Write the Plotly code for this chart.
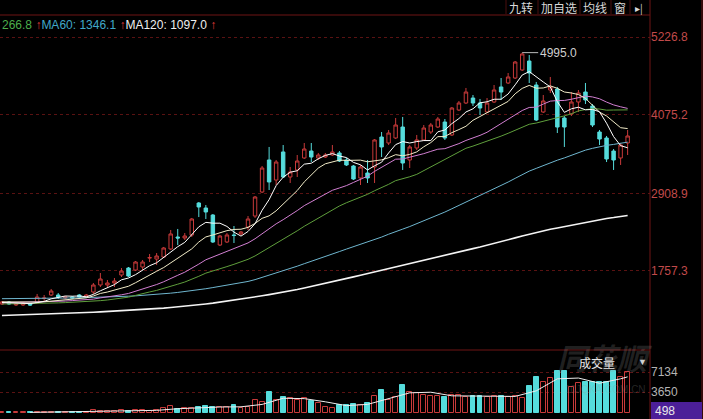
import plotly.graph_objects as go

# ---------------- data ----------------
open_ = [1267,1297,1253,1253,1267,1282,1349,1401,1401,1356, 1371,1401,1371,1445,1549,1549,1579,1697,1801,1771,
         1816,1949,1934,1964,2083,2261,2246,2291,2765,2691, 2587,2142,2187,2291,2306,2409,2572,2928,3403,3106,
         3522,3151,3255,3433,3536,3433,3447,3477,3507,3403, 3314,3136,3210,3299,3744,3655,3729,3892,3403,3581,
         3700,3818,3892,3966,3774,4144,4248,4322,4248,4115, 4263,4486,4545,4619,4738,4871,4515,4115,4441,4456,
         4026,4085,4263,4411,4204,3818,3729,3536,3433,3655]
high = [1312,1312,1282,1297,1282,1416,1401,1490,1430,1386, 1386,1416,1416,1579,1727,1623,1653,1801,1816,1905,
        1920,2009,2023,2113,2365,2380,2320,2543,2780,2735, 2602,2291,2320,2424,2350,2572,2869,3314,3596,3403,
        3625,3299,3477,3655,3655,3507,3507,3625,3536,3433, 3329,3329,3403,3714,3818,3848,4026,4041,3625,3774,
        3922,3952,4041,4011,4189,4278,4471,4367,4308,4322, 4515,4619,4693,4871,4995,4960,4560,4367,4634,4486,
        4055,4411,4441,4545,4233,3848,3759,3566,3655,3848]
low = [1253,1253,1238,1238,1238,1267,1312,1386,1341,1341, 1341,1356,1356,1416,1519,1505,1519,1668,1668,1756,
       1771,1890,1845,1949,2068,2142,2216,2261,2557,2528, 2172,2127,2172,2172,2291,2365,2543,2913,2958,3032,
       3136,3062,3151,3418,3373,3403,3433,3462,3373,3314, 3106,3032,3062,3062,3447,3625,3714,3255,3284,3551,
       3685,3789,3877,3700,3759,4130,4233,4204,4070,4100, 4248,4293,4530,4604,4724,4545,3981,4100,4397,3803,
       3596,4055,4115,4233,3892,3625,3373,3255,3329,3477]
close = [1297,1267,1267,1282,1253,1371,1356,1460,1371,1371, 1356,1371,1401,1549,1638,1579,1608,1756,1682,1890,
         1890,1955,1979,2098,2306,2246,2276,2528,2706,2632, 2187,2276,2291,2283,2335,2528,2854,3284,3077,3373,
         3151,3225,3388,3566,3447,3477,3477,3522,3388,3329, 3121,3299,3136,3700,3596,3803,3922,3358,3596,3700,
         3877,3922,4011,3729,4174,4248,4411,4248,4174,4248, 4441,4411,4634,4856,4975,4693,3996,4278,4486,3892,
         3892,4263,4397,4293,3922,3714,3418,3403,3625,3759]

ma5 = [1290,1285,1280,1278,1273,1288,1306,1344,1362,1386, 1383,1386,1374,1410,1463,1508,1555,1626,1653,1703,
       1765,1835,1879,1962,2046,2117,2181,2291,2412,2478, 2466,2466,2418,2334,2274,2343,2458,2657,2816,3023,
       3148,3222,3243,3341,3355,3421,3471,3498,3462,3439, 3367,3332,3255,3317,3370,3507,3631,3676,3655,3676,
       3691,3691,3821,3848,3943,4017,4115,4162,4251,4266, 4304,4304,4382,4518,4663,4714,4631,4560,4486,4269,
       4109,4162,4186,4147,4153,4118,3949,3750,3616,3584]
ma10 = [1300,1298,1296,1295,1293,1296,1300,1308,1316,1330, 1335,1346,1359,1386,1424,1445,1470,1500,1531,1583,
        1636,1695,1753,1808,1874,1941,2008,2085,2187,2262, 2291,2323,2355,2373,2376,2404,2462,2538,2575,2649,
        2745,2840,2950,3078,3189,3284,3347,3370,3401,3397, 3394,3401,3376,3390,3405,3437,3482,3465,3486,3523,
        3599,3661,3749,3751,3809,3854,3903,3992,4049,4104, 4161,4210,4272,4385,4465,4509,4468,4471,4502,4466,
        4411,4397,4373,4317,4211,4113,4056,3968,3882,3869]
ma20 = [1285,1287,1288,1290,1292,1295,1298,1302,1306,1311, 1318,1322,1328,1340,1358,1370,1385,1404,1424,1457,
        1486,1521,1556,1597,1649,1693,1739,1793,1859,1923, 1964,2009,2054,2091,2125,2173,2235,2312,2381,2456,
        2518,2582,2653,2726,2783,2844,2905,2954,2988,3023, 3070,3121,3163,3234,3297,3361,3415,3418,3444,3460,
        3497,3531,3563,3571,3607,3646,3693,3729,3768,3814, 3880,3936,4011,4068,4137,4182,4186,4232,4276,4285,
        4286,4304,4323,4351,4338,4311,4262,4220,4192,4168]
ma30 = [1267,1268,1269,1270,1272,1274,1277,1280,1284,1288, 1292,1297,1302,1309,1317,1327,1338,1352,1369,1395,
        1424,1446,1469,1496,1530,1561,1593,1631,1678,1725, 1754,1788,1822,1856,1891,1930,1980,2041,2098,2165,
        2224,2286,2353,2420,2480,2543,2606,2664,2721,2769, 2810,2855,2894,2947,2990,3042,3097,3124,3154,3190,
        3246,3301,3358,3406,3468,3525,3577,3609,3645,3675, 3718,3757,3799,3842,3893,3933,3951,3976,4012,4031,
        4057,4089,4131,4151,4162,4159,4142,4144,4144,4146]
ma60 = [1346,1346,1347,1347,1348,1349,1350,1352,1353,1355, 1357,1359,1361,1364,1367,1370,1374,1378,1383,1388,
        1394,1401,1409,1418,1428,1439,1451,1464,1478,1494, 1511,1528,1546,1563,1582,1602,1629,1661,1691,1727,
        1758,1792,1828,1865,1899,1935,1972,2008,2045,2082, 2117,2151,2182,2222,2260,2302,2345,2378,2416,2458,
        2500,2545,2590,2631,2680,2728,2779,2825,2872,2920, 2971,3022,3076,3131,3187,3238,3279,3320,3367,3400,
        3434,3472,3513,3549,3576,3601,3620,3634,3649,3668]
ma120 = [1097,1100,1103,1106,1109,1112,1116,1119,1123,1126, 1130,1135,1140,1145,1150,1155,1161,1167,1173,1179,
         1185,1192,1199,1206,1215,1224,1234,1245,1256,1268, 1280,1294,1309,1324,1340,1356,1372,1389,1406,1423,
         1440,1461,1483,1505,1527,1550,1573,1597,1621,1645, 1670,1695,1720,1745,1770,1796,1822,1848,1874,1899,
         1923,1946,1969,1989,2014,2039,2065,2089,2113,2138, 2164,2191,2219,2248,2277,2304,2327,2349,2375,2394,
         2414,2437,2461,2484,2502,2520,2536,2549,2564,2581]

volume = [120,100,90,110,100,200,150,250,180,150, 130,160,200,520,350,400,350,520,350,520,
          520,400,520,870,1220,700,870,870,1045,1220, 1045,1045,1045,1390,870,1045,2260,1910,3650,2260,
          2780,2610,2260,2610,2090,1740,1045,870,1390,1390, 1570,1390,1740,2960,4000,2260,2780,4870,3650,3480,
          3130,2960,2960,2780,3130,3130,2780,2960,2960,2780, 2960,2960,2780,2960,2610,4700,6260,5400,6090,7310,
          7310,4520,5220,5400,5400,5400,5400,7310,6260,7130]
vol_ma_idx = [4,7,10,13,16,19,22,25,28,31,34,37,40,43,46,49,52,55,58,61,64,67,70,73,76,79,82,85,88,89]
vol_ma = [104,162,172,232,364,428,462,742,941,1045,1079,1495,2572,2504,1949,1287,1496,2470,3512,3618,
          2992,2956,2888,2888,3862,5952,6090,5188,5954,6300]

price_ticks = [1757.3, 2908.9, 4075.2, 5226.8]
vol_ticks = [3650, 7134]
vol_last_label = 498
legend_vals = {"MA30": "266.8", "MA60": "1346.1", "MA120": "1097.0"}
buttons = ["九转", "加自选", "均线", "窗", "▸|"]

# ---------------- styling / layout ----------------
W, H = 703, 419
UP = "#c83a3a"
DOWN = "#55dcdc"
GRID = "#5a1212"
FONT = "Liberation Sans, Arial, sans-serif"
CJK = "Noto Sans CJK SC, sans-serif"

def px(x):
    return x / W

def py(y):
    return 1 - y / H

idx = list(range(len(close)))

fig = go.Figure()

fig.add_trace(go.Candlestick(
    x=idx, open=open_, high=high, low=low, close=close,
    increasing=dict(line=dict(color=UP, width=1), fillcolor="#000000"),
    decreasing=dict(line=dict(color=DOWN, width=1), fillcolor=DOWN),
    whiskerwidth=0, hoverinfo="skip", showlegend=False,
    xaxis="x", yaxis="y"))

ma_styles = [
    (ma120, "#f4f4f4", 1.6),
    (ma60, "#6fb6cf", 1.0),
    (ma30, "#5f9f3c", 1.0),
    (ma20, "#d27fd2", 1.0),
    (ma10, "#f2ecc8", 1.0),
    (ma5, "#ffffff", 1.0),
]
for vals, col, w in ma_styles:
    fig.add_trace(go.Scatter(x=list(range(len(vals))), y=vals, mode="lines",
                             line=dict(color=col, width=w), hoverinfo="skip",
                             showlegend=False, xaxis="x", yaxis="y"))

vol_up = [c >= o for o, c in zip(open_, close)]
fig.add_trace(go.Bar(
    x=idx, y=volume, width=0.7,
    marker=dict(color=["rgba(0,0,0,0)" if u else DOWN for u in vol_up],
                line=dict(color=[UP if u else DOWN for u in vol_up], width=1)),
    hoverinfo="skip", showlegend=False, xaxis="x2", yaxis="y2"))
fig.add_trace(go.Scatter(x=vol_ma_idx, y=vol_ma, mode="lines",
                         line=dict(color="#eeeeee", width=1), hoverinfo="skip",
                         showlegend=False, xaxis="x2", yaxis="y2"))

xr = [-0.28, 92.18]
main_top, main_bot = 15, 350
p_at = lambda y: 5775.7 - 14.83 * y
v_at = lambda y: (413 - y) * 174.2

fig.update_layout(
    width=W, height=H, margin=dict(l=0, r=0, t=0, b=0),
    paper_bgcolor="#000000", plot_bgcolor="#000000",
    font=dict(family=FONT, size=12, color="#c8c8c8"),
    bargap=0,
    xaxis=dict(domain=[0, px(650)], range=xr, showgrid=False, zeroline=False,
               showticklabels=False, showline=False, rangeslider=dict(visible=False),
               fixedrange=True),
    yaxis=dict(domain=[py(main_bot), py(main_top)], range=[p_at(main_bot), p_at(main_top)],
               side="right", tickvals=price_ticks, ticktext=[f"{v:.1f}" for v in price_ticks],
               tickfont=dict(color="#c24a4a", size=12, family=FONT),
               showgrid=True, gridcolor=GRID, griddash="dot", gridwidth=1,
               zeroline=False, showline=False, ticks=""),
    xaxis2=dict(domain=[0, px(650)], range=xr, anchor="y2", showgrid=False, zeroline=False,
                showticklabels=False, showline=False, fixedrange=True),
    yaxis2=dict(domain=[0, py(main_bot)], range=[v_at(419), v_at(main_bot)], anchor="x2",
                side="right", tickvals=vol_ticks, ticktext=[str(v) for v in vol_ticks],
                tickfont=dict(color="#b4b4b4", size=12, family=FONT),
                showgrid=True, gridcolor=GRID, griddash="dot", gridwidth=1,
                zeroline=False, showline=False, ticks=""),
)

shapes = []
line_col = "#6e1414"
shapes.append(dict(type="line", xref="paper", yref="paper", x0=0, x1=px(650), y0=py(15), y1=py(15),
                   line=dict(color=line_col, width=1)))
shapes.append(dict(type="line", xref="paper", yref="paper", x0=0, x1=px(650), y0=py(350), y1=py(350),
                   line=dict(color=line_col, width=1)))
shapes.append(dict(type="line", xref="paper", yref="paper", x0=px(650), x1=px(650), y0=0, y1=1,
                   line=dict(color=line_col, width=1)))
shapes.append(dict(type="line", xref="paper", yref="paper", x0=px(702), x1=px(702), y0=0, y1=1,
                   line=dict(color=line_col, width=1)))
for sx in [506, 538, 580, 611, 630]:
    shapes.append(dict(type="line", xref="paper", yref="paper", x0=px(sx), x1=px(sx), y0=py(0), y1=py(14),
                       line=dict(color="#4a0e0e", width=1)))
shapes.append(dict(type="rect", xref="paper", yref="paper", x0=px(651), x1=px(702), y0=py(419), y1=py(402),
                   fillcolor="#4c1f98", line=dict(width=0)))
fig.update_layout(shapes=shapes)

ann = []
arrow = '<span style="color:#e03a3a"><b>↑</b></span>'
legend_html = (f'<span style="color:#4cae4c">{legend_vals["MA30"]} </span>{arrow}'
               f'<span style="color:#40a8c8">MA60: {legend_vals["MA60"]} </span>{arrow}'
               f'<span style="color:#efefef">MA120: {legend_vals["MA120"]} </span>{arrow}')
ann.append(dict(text=legend_html, xref="paper", yref="paper", x=px(0), y=py(25),
                xanchor="left", yanchor="middle", showarrow=False,
                font=dict(size=12, family=FONT)))
btn_x = [521, 559, 595, 620, 639]
btn_size = [12, 12, 12, 12, 10]
for t, bx, bs in zip(buttons, btn_x, btn_size):
    ann.append(dict(text=t, xref="paper", yref="paper", x=px(bx), y=py(7.5),
                    xanchor="center", yanchor="middle", showarrow=False,
                    font=dict(size=bs, family=CJK, color="#d8d8d8")))
imax = max(range(len(high)), key=lambda i: high[i])
ann.append(dict(text=f"{high[imax]:.1f}", x=imax, y=high[imax], xref="x", yref="y",
                showarrow=True, arrowhead=0, arrowwidth=1, arrowcolor="#bbbbbb",
                ax=16, ay=0, axref="pixel", ayref="pixel", xanchor="left", yanchor="middle",
                font=dict(size=12, family=FONT, color="#cfcfcf")))
ann.append(dict(text="<i><b>同花顺</b></i>", xref="paper", yref="paper", x=px(605), y=py(357),
                xanchor="center", yanchor="middle", showarrow=False,
                font=dict(size=30, family=CJK, color="rgba(150,150,150,0.22)")))
ann.append(dict(text="10JQKA.COM.CN", xref="paper", yref="paper", x=px(605), y=py(389),
                xanchor="center", yanchor="middle", showarrow=False,
                font=dict(size=10, family=FONT, color="rgba(150,150,150,0.25)")))
ann.append(dict(text="成交量", xref="paper", yref="paper", x=px(577), y=py(362),
                xanchor="left", yanchor="middle", showarrow=False,
                font=dict(size=12, family=CJK, color="#e8e8e8")))
ann.append(dict(text="▼", xref="paper", yref="paper", x=px(642), y=py(362),
                xanchor="center", yanchor="middle", showarrow=False,
                font=dict(size=9, family=FONT, color="#d0d0d0")))
ann.append(dict(text=str(vol_last_label), xref="paper", yref="paper", x=px(653), y=py(410.5),
                xanchor="left", yanchor="middle", showarrow=False,
                font=dict(size=12, family=FONT, color="#e8e8e8")))
fig.update_layout(annotations=ann)

fig.write_html("out.html", config={"displayModeBar": False},
               post_script="document.body.style.margin='0';document.body.style.overflow='hidden';")
